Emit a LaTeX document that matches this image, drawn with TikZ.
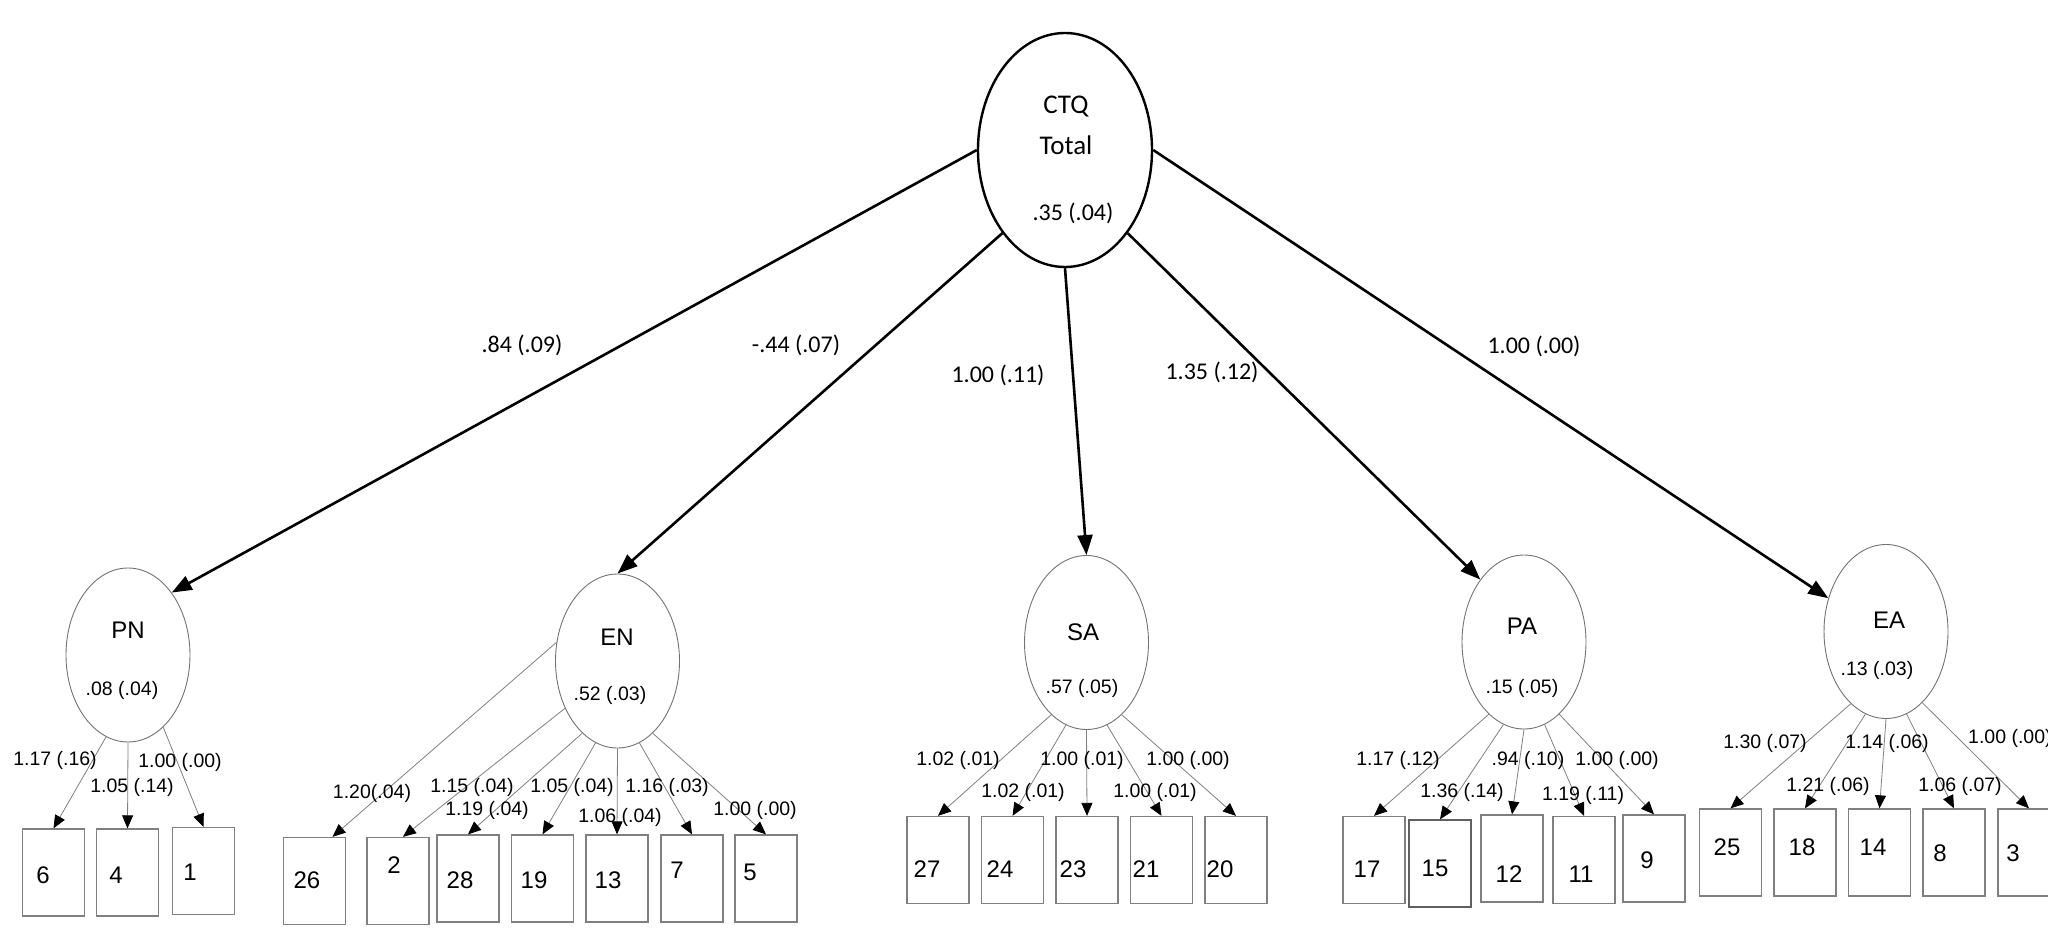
\documentclass[tikz,border=0pt]{standalone}
\usepackage{fontspec}
\setmainfont{Liberation Sans}
\newfontfamily\calfont{Carlito}
\usetikzlibrary{arrows.meta,shapes.geometric}
\newcommand\obs[6]{\node[obsbox, label={[num, xshift=#5pt, yshift=#6pt]center:#4}] (#1) at (#2,#3) {};}
\begin{document}
\begin{tikzpicture}[x=1pt,y=-1pt,
  topell/.style={ellipse, draw=black, line width=2.4pt, minimum width=174pt, minimum height=234pt, inner sep=0pt},
  lat/.style={ellipse, draw=black!55, line width=0.9pt, minimum width=124pt, minimum height=174pt, inner sep=0pt},
  obsbox/.style={rectangle, draw=black!50, line width=1.3pt, minimum width=62pt, minimum height=87pt, inner sep=0pt},
  main/.style={line width=2.6pt, -{Triangle[length=20pt,width=15pt]}},
  load/.style={draw=black!50, line width=0.8pt, -{Triangle[length=13pt,width=11pt,color=black]}},
  lab/.style={font=\fontsize{19.5}{22}\selectfont, inner sep=0pt},
  num/.style={font=\fontsize{24}{28}\selectfont, inner sep=0pt},
  lname/.style={font=\fontsize{24}{28}\selectfont, inner sep=0pt},
  toplab/.style={font=\calfont\fontsize{24}{28}\selectfont, inner sep=0pt},
  ctqtxt/.style={font=\calfont\fontsize{27}{30}\selectfont, inner sep=0pt}]
\useasboundingbox (0,0) rectangle (2048,933);
\fill[white] (0,0) rectangle (2048,933);

% top latent
\node[topell] (ctq) at (1065,150) {};
\node[ctqtxt] (ctqa) at (1066,107) {CTQ};
\node[ctqtxt] (ctqb) at (1066,145) {Total};
\node[toplab] (ctqv) at (1073,213) {.35 (.04)};

% first-order latents
\node[lat] (pn) at (128,655) {};
\node[lname] (pnn) at (128,630) {PN};
\node[lab] (pnv) at (122,690) {.08 (.04)};
\node[lat] (en) at (617.5,661) {};
\node[lname] (enn) at (617,637) {EN};
\node[lab] (env) at (610,695) {.52 (.03)};
\node[lat] (sa) at (1086.5,642.5) {};
\node[lname] (san) at (1083,632) {SA};
\node[lab] (sav) at (1082,688) {.57 (.05)};
\node[lat] (pa) at (1524,642) {};
\node[lname] (pan) at (1522,626) {PA};
\node[lab] (pav) at (1522,688) {.15 (.05)};
\node[lat] (ea) at (1886,631.5) {};
\node[lname] (ean) at (1889,620) {EA};
\node[lab] (eav) at (1877,670) {.13 (.03)};

% structural paths
\draw[main] (ctq.west) -- (pn.55);
\draw[main] (ctq.233) -- (en.north);
\draw[main] (ctq.south) -- (sa.north);
\draw[main] (ctq.307) -- (pa.125);
\draw[main] (ctq.east) -- (ea.150);
\node[toplab] (l1) at (522,345) {.84 (.09)};
\node[toplab] (l2) at (796,345) {-.44 (.07)};
\node[toplab] (l3) at (998,375) {1.00 (.11)};
\node[toplab] (l4) at (1212,372) {1.35 (.12)};
\node[toplab] (l5) at (1534,346) {1.00 (.00)};

% observed items
\obs{b6}{53.5}{872.5}{6}{-10.5}{-2.5}
\obs{b4}{127.5}{872.5}{4}{-11.5}{-2.5}
\obs{b1}{203.5}{871}{1}{-13.5}{-1}
\obs{b26}{314.5}{881}{26}{-7.5}{1}
\obs{b2}{398}{881}{2}{-4}{16}
\obs{b28}{468}{878.5}{28}{-8}{-1.5}
\obs{b19}{542.5}{878.5}{19}{-8.5}{-1.5}
\obs{b13}{617}{878.5}{13}{-9}{-1.5}
\obs{b7}{692}{878.5}{7}{-15}{8.5}
\obs{b5}{766}{878.5}{5}{-16}{6.5}
\obs{b27}{938}{860}{27}{-11}{-9}
\obs{b24}{1012.5}{860}{24}{-12.5}{-9}
\obs{b23}{1087}{860}{23}{-14}{-9}
\obs{b21}{1161.5}{860}{21}{-15.5}{-9}
\obs{b20}{1236}{860}{20}{-16}{-9}
\obs{b17}{1374}{860}{17}{-7}{-9}
\node[obsbox, draw=black!62, label={[num, xshift=-5pt, yshift=-4.5pt]center:15}] (b15) at (1440,863.5) {};
\obs{b12}{1512}{858.5}{12}{-3}{-15.5}
\obs{b11}{1584}{860}{11}{-3}{-14}
\obs{b9}{1654}{858.5}{9}{-7}{-1.5}
\obs{b25}{1730.5}{852.5}{25}{-3.5}{5.5}
\obs{b18}{1805}{852.5}{18}{-3}{5.5}
\obs{b14}{1879.5}{852.5}{14}{-6.5}{5.5}
\obs{b8}{1954}{852.5}{8}{-14}{-0.5}
\obs{b3}{2029}{852.5}{3}{-16}{-0.5}

% loadings PN
\draw[load] (pn.255) -- (b6.north);
\draw[load] (pn.270) -- (b4.north);
\draw[load] (pn.296) -- (b1.north);
\node[lab] (p1) at (55,760) {1.17 (.16)};
\node[lab] (p2) at (132,787) {1.05 (.14)};
\node[lab] (p3) at (180,762) {1.00 (.00)};

% loadings EN
\draw[load] (en.163) -- ([xshift=18pt]b26.north);
\draw[load] (en.222) -- ([xshift=5pt]b2.north);
\draw[load] (en.244) -- (b28.north);
\draw[load] (en.255) -- (b19.north);
\draw[load] (en.270) -- (b13.north);
\draw[load] (en.285) -- (b7.north);
\draw[load] (en.296) -- (b5.north);
\node[lab] (e1) at (372,793) {1.20(.04)};
\node[lab] (e2) at (472,787) {1.15 (.04)};
\node[lab] (e3) at (487,810) {1.19 (.04)};
\node[lab] (e4) at (572,787) {1.05 (.04)};
\node[lab] (e5) at (620,817) {1.06 (.04)};
\node[lab] (e6) at (667,787) {1.16 (.03)};
\node[lab] (e7) at (755,810) {1.00 (.00)};

% loadings SA
\draw[load] (sa.244) -- (b27.north);
\draw[load] (sa.256) -- (b24.north);
\draw[load] (sa.270) -- (b23.north);
\draw[load] (sa.284) -- (b21.north);
\draw[load] (sa.296) -- (b20.north);
\node[lab] (s1) at (958,760) {1.02 (.01)};
\node[lab] (s2) at (1023,792) {1.02 (.01)};
\node[lab] (s3) at (1082,760) {1.00 (.01)};
\node[lab] (s4) at (1155,792) {1.00 (.01)};
\node[lab] (s5) at (1188,760) {1.00 (.00)};

% loadings PA
\draw[load] (pa.244) -- (b17.north);
\draw[load] (pa.256) -- (b15.north);
\draw[load] (pa.270) -- (b12.north);
\draw[load] (pa.284) -- (b11.north);
\draw[load] (pa.296) -- (b9.north);
\node[lab] (a1) at (1398,760) {1.17 (.12)};
\node[lab] (a2) at (1462,792) {1.36 (.14)};
\node[lab] (a3) at (1528,760) {.94 (.10)};
\node[lab] (a4) at (1617,760) {1.00 (.00)};
\node[lab] (a5) at (1583,795) {1.19 (.11)};

% loadings EA
\draw[load] (ea.244) -- (b25.north);
\draw[load] (ea.256) -- (b18.north);
\draw[load] (ea.270) -- (b14.north);
\draw[load] (ea.284) -- (b8.north);
\draw[load] (ea.297) -- (b3.north);
\node[lab] (m1) at (1765,743) {1.30 (.07)};
\node[lab] (m2) at (1887,743) {1.14 (.06)};
\node[lab] (m3) at (1828,786) {1.21 (.06)};
\node[lab] (m4) at (1960,786) {1.06 (.07)};
\node[lab, anchor=west] (m5) at (1968,738) {1.00 (.00)};
\end{tikzpicture}
\end{document}
